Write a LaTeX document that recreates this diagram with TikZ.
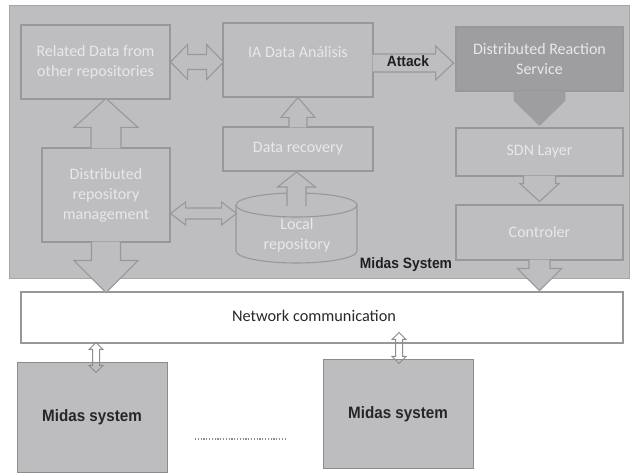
\documentclass[tikz,border=0pt]{standalone}
\usepackage{fontspec}
\setmainfont{Carlito}
\newfontfamily\labfont{Liberation Sans}[FakeStretch=0.92]
\usetikzlibrary{calc}
\definecolor{bggray}{RGB}{190,190,193}
\definecolor{boxline}{RGB}{152,152,155}
\definecolor{outline}{RGB}{165,165,168}
\definecolor{txtw}{RGB}{232,232,234}
\definecolor{drsfill}{RGB}{158,158,161}
\definecolor{midfill}{RGB}{189,189,192}
\definecolor{midline}{RGB}{140,140,142}
\definecolor{nettxt}{RGB}{40,40,40}
\newcommand\blockarrow[7]{%
  \fill[#7, draw=none, shift={#1}, rotate=#2] (-1,-#4) -- ({#3-#6},-#4) -- ({#3-#6},-#5) -- (#3,0) -- ({#3-#6},#5) -- ({#3-#6},#4) -- (-1,#4) -- cycle;
  \draw[#7, fill=none, shift={#1}, rotate=#2] (-1,-#4) -- ({#3-#6},-#4) -- ({#3-#6},-#5) -- (#3,0) -- ({#3-#6},#5) -- ({#3-#6},#4) -- (-1,#4);}
\newcommand\dblarrow[7]{%
  \path[#7, shift={#1}, rotate=#2] (#6,-#4) -- ({#3-#6},-#4) -- ({#3-#6},-#5) -- (#3,0) -- ({#3-#6},#5) -- ({#3-#6},#4) -- (#6,#4) -- (#6,#5) -- (0,0) -- (#6,-#5) -- cycle;}
\begin{document}
\begin{tikzpicture}[x=1pt,y=-1pt,
  box/.style={draw=boxline, line width=1.1pt, fill=bggray, text=txtw, inner sep=0pt, font=\fontsize{16}{20}\selectfont, align=center},
  wtext/.style={text=txtw, inner sep=0pt, font=\fontsize{16}{20}\selectfont, align=center},
  harr/.style={draw=boxline, line width=1.1pt, fill=bggray},
  darr/.style={draw=drsfill, line width=0.6pt, fill=drsfill},
  sarr/.style={draw=midline, line width=1pt},
  midbox/.style={draw=midline, line width=1pt, fill=midfill, inner sep=0pt, text=black!85, font=\labfont\bfseries\fontsize{16.5}{20}\selectfont},
  blab/.style={inner sep=0pt, text=black!88, font=\labfont\bfseries\fontsize{15}{18}\selectfont}]
\useasboundingbox (0,0) rectangle (630,473);
\fill[white] (0,0) rectangle (630,473);
% system frame
\node[draw=outline, line width=1pt, fill=bggray, minimum width=620, minimum height=273, inner sep=0pt, anchor=north west] (frame) at (9,5) {};
% boxes
\node[box, minimum width=149, minimum height=74] (rel) at (95.5,62) {Related Data from\\other repositories};
\node[box, minimum width=150, minimum height=74] (ia) at (298,60) {};
\node[wtext] (iatext) at (298,52) {IA Data Análisis};
\node[box, fill=drsfill, minimum width=167, minimum height=64] (drs) at (539.5,59) {Distributed Reaction\\Service};
\node[box, minimum width=167, minimum height=48] (sdn) at (539.5,152) {SDN Layer};
\node[box, minimum width=167, minimum height=55] (ctrl) at (539.5,232.5) {Controler};
\node[box, minimum width=150, minimum height=44] (drec) at (298,149) {Data recovery};
\node[box, minimum width=128, minimum height=94] (drm) at (106,195) {Distributed\\repository\\management};
% local repository cylinder
\coordinate (loctop) at (296.5,205);
\fill[bggray] (236,205) -- (236,251) arc[start angle=180, end angle=0, x radius=60.5, y radius=12] -- (357,205) arc[start angle=0, end angle=-180, x radius=60.5, y radius=12] -- cycle;
\draw[boxline, line width=1.1pt] (236,205) -- (236,251) arc[start angle=180, end angle=0, x radius=60.5, y radius=12] -- (357,205);
\draw[boxline, line width=1.1pt] (loctop) ellipse[x radius=60.5, y radius=12];
\node[wtext] (loctext) at (297,235) {Local\\repository};
% network + midas systems
\node[draw=boxline, line width=1.1pt, fill=white, minimum width=602, minimum height=51, inner sep=0pt] (net) at (322,317.5) {};
\node[inner sep=0pt, text=nettxt, font=\fontsize{16.3}{20}\selectfont] (nettext) at (314,316) {Network communication};
\node[midbox, minimum width=150, minimum height=109] (m1) at (92,417.5) {Midas system};
\node[midbox, minimum width=150, minimum height=108] (m2) at (398,414) {Midas system};
% arrows
\dblarrow{(rel.east)}{0}{53}{7.5}{17.5}{17}{harr}
\blockarrow{(drm.north)}{90}{49}{15}{32}{29}{harr}
\blockarrow{(drm.south)}{-90}{50}{14.5}{32}{32}{harr}
\dblarrow{($(drm.east)+(0,18.5)$)}{0}{66}{5.5}{11.5}{15}{harr}
\blockarrow{(loctop)}{90}{33}{9.5}{19}{15}{harr}
\blockarrow{(drec.north)}{90}{29}{9}{17}{20}{harr}
\blockarrow{($(ia.east)+(0,3)$)}{0}{80}{9}{17}{18}{harr}
\fill[darr] ($(drs.south)+(-25.5,0)$) -- ++(0,9) -- ++(25.5,25) -- ++(25.5,-25) -- ++(0,-9) -- cycle;
\blockarrow{(sdn.south)}{-90}{25}{16}{19.5}{18}{harr}
\blockarrow{(ctrl.south)}{-90}{30}{10.5}{22}{22}{harr}
\dblarrow{($(m1.north)+(4,10)$)}{90}{30}{3.5}{7}{7}{sarr}
\dblarrow{($(m2.north)+(1,4)$)}{90}{31}{3.5}{7}{7}{sarr}
% labels
\node[blab] (attack) at (408,61) {Attack};
\node[blab] (midaslab) at (406,265) {Midas System};
% dots
\coordinate (d1) at (195,439);
\coordinate (d2) at (287,439);
\draw[midline, line width=1.3pt, dash pattern=on 1.2pt off 1.6pt] (d1) -- (d2);
\end{tikzpicture}
\end{document}
